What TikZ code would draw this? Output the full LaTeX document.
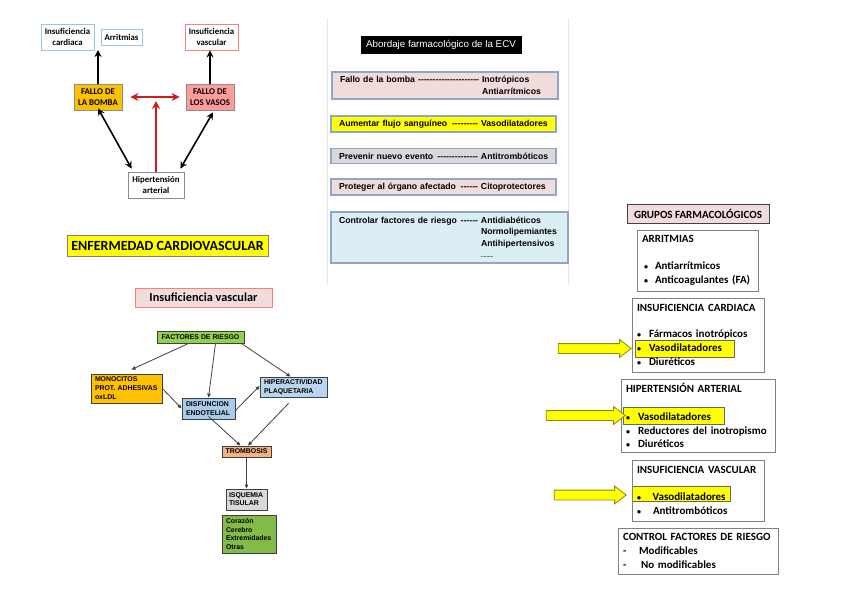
\documentclass[tikz,border=0pt]{standalone}
\usepackage{fontspec}
\setmainfont{Carlito}
\newfontfamily\arial{Liberation Sans}
\usetikzlibrary{arrows.meta,shapes.arrows}
\definecolor{icblue}{HTML}{9DC3E6}
\definecolor{ivred}{HTML}{FF7C80}
\definecolor{borang}{HTML}{FFC000}
\definecolor{pinkv}{HTML}{FF9B9B}
\definecolor{redar}{HTML}{D01C1C}
\definecolor{mbord}{HTML}{8FA6C8}
\definecolor{pinkl}{HTML}{F2DCDB}
\definecolor{grayl}{HTML}{D9D9D9}
\definecolor{bluel}{HTML}{DBEEF4}
\definecolor{greenf}{HTML}{92D050}
\definecolor{bluef}{HTML}{A9CBEB}
\definecolor{salmonf}{HTML}{F4B183}
\definecolor{yel}{HTML}{FFFF00}
\definecolor{fcbord}{HTML}{404040}
\newlength\colw \setlength\colw{142pt}
\newcommand\lr[2]{\makebox[\colw][l]{#1 \leaders\hbox{-}\hfill\hspace{2pt}}#2}
\newcommand\bul[3]{\hspace*{#1pt}\makebox[#2pt][l]{{\fontsize{8}{8}\selectfont\textbullet}}#3}
\begin{document}
\begin{tikzpicture}[x=1pt,y=-1pt,
  sz/.style 2 args={minimum width=#1pt, minimum height=#2pt},
  tl/.style={draw, rectangle, inner sep=0pt, align=center, line width=0.8pt,
    font=\bfseries\fontsize{8.8}{11}\selectfont},
  bk/.style={line width=1.6pt, black, -{Stealth[length=7pt,width=7pt]}},
  bkd/.style={line width=1.6pt, black, {Stealth[length=7pt,width=7pt]}-{Stealth[length=7pt,width=7pt]}},
  rd/.style={line width=1.8pt, redar},
  rtip/.style={-{Stealth[length=8pt,width=8pt]}},
  mb/.style={draw=mbord, line width=1.2pt, rectangle, inner xsep=8pt, inner ysep=0pt, align=left,
    font=\arial\bfseries\fontsize{8.7}{11.5}\selectfont},
  fc/.style={draw=fcbord, line width=0.9pt, rectangle, inner ysep=0pt,
    font=\arial\bfseries\fontsize{6.9}{9}\selectfont},
  fa/.style={draw=fcbord, line width=0.8pt, -{Triangle[length=4pt,width=3.5pt]}},
  rb/.style={draw=black!50, line width=0.8pt, rectangle, inner xsep=5pt, inner ysep=0pt, align=left,
    font=\bfseries\fontsize{11}{14}\selectfont},
  hl/.style={fill=yel, draw=black!60, line width=0.8pt, rectangle, inner sep=0pt},
  ya/.style={single arrow, fill=yel, draw=black!45!yel, line width=0.8pt, inner xsep=0pt, inner ysep=4.5pt,
    single arrow head extend=4pt, single arrow tip angle=75}
]
\useasboundingbox[fill=white] (0,0) rectangle (848,599);

% ---------- top-left diagram ----------
\node[tl, draw=icblue, sz={53}{26}] (ic) at (67.5,37) {Insuficiencia\\cardiaca};
\node[tl, draw=icblue, sz={41}{16}] (arr) at (121.5,37) {Arritmias};
\node[tl, draw=ivred, sz={53}{26}] (iv) at (211.5,37) {Insuficiencia\\vascular};
\node[tl, draw=black!45, fill=borang, sz={48}{26}] (bomba) at (98,97) {FALLO DE\\LA BOMBA};
\node[tl, draw=black!45, fill=pinkv, sz={48}{26}] (vasos) at (210,97) {FALLO DE\\LOS VASOS};
\node[tl, draw=black!45, sz={56}{26}] (hta) at (156,185) {Hipertensión\\arterial};
\coordinate (up1) at (98,50);
\coordinate (redtip) at (156,101);
\draw[bk] (bomba.north) -- (up1);
\draw[bk] (vasos.north) -- (vasos.north |- iv.south);
\draw[rd, {Stealth[length=8pt,width=8pt]}-{Stealth[length=8pt,width=8pt]}] ([xshift=8pt]bomba.east) -- ([xshift=-6pt]vasos.west);
\draw[rd, rtip] (hta.north) -- (redtip);
\draw[bkd] ([yshift=2pt]bomba.south) -- ([shift={(4,-3)}]hta.north west);
\draw[bkd] ([shift={(3,2)}]vasos.south) -- ([shift={(-4,-3)}]hta.north east);

\node[draw=black!50, fill=yel, line width=0.8pt, inner sep=0pt, sz={201}{21},
  font=\bfseries\fontsize{14}{16}\selectfont] (ecv) at (167.5,245.5) {ENFERMEDAD CARDIOVASCULAR};

% ---------- middle panel ----------
\draw[black!10, line width=0.8pt] (327,18) -- (327,285);
\draw[black!10, line width=0.8pt] (568,18) -- (568,285);
\node[fill=black, draw=black, text=white, inner sep=0pt, sz={160}{17},
  font=\arial\fontsize{9.8}{11}\selectfont] (abt) at (441,44.5) {Abordaje farmacológico de la ECV};
\node[mb, fill=pinkl, text width=210pt, minimum height=27pt] (m1) at (445,85.5)
  {\lr{Fallo de la bomba}{Inotrópicos}\\\hspace*{\colw}Antiarrítmicos};
\node[mb, fill=yel, text width=209pt, minimum height=16pt] (m2) at (443.5,124)
  {\lr{Aumentar flujo sanguíneo}{Vasodilatadores}};
\node[mb, fill=grayl, text width=209pt, minimum height=15pt] (m3) at (443.5,156)
  {\lr{Prevenir nuevo evento}{Antitrombóticos}};
\node[mb, fill=pinkl, text width=209pt, minimum height=16pt] (m4) at (443.5,187)
  {\lr{Proteger al órgano afectado}{Citoprotectores}};
\node[mb, fill=bluel, text width=221pt, minimum height=51pt] (m5) at (449.5,237.5)
  {\lr{Controlar factores de riesgo}{Antidiabéticos}\\\hspace*{\colw}Normolipemiantes\\\hspace*{\colw}Antihipertensivos\\\hspace*{\colw}{\fontsize{5}{6}\selectfont .........}};

% ---------- insuficiencia vascular flowchart ----------
\node[draw=ivred, fill=pinkl, line width=0.8pt, inner sep=0pt, sz={137}{19},
  font=\bfseries\fontsize{12.3}{14}\selectfont] (ivt) at (203.5,297.5) {Insuficiencia vascular};
\node[fc, fill=greenf, sz={87}{12}, inner xsep=0pt] (fr) at (200.5,337) {FACTORES DE RIESGO};
\node[fc, fill=borang, minimum height=29pt, inner xsep=4pt, text width=63pt, align=left] (mono) at (126.5,388.5)
  {MONOCITOS\\PROT. ADHESIVAS\\oxLDL};
\node[fc, fill=bluef, minimum height=21pt, inner xsep=4pt, text width=45pt, align=left] (disf) at (208.5,408.5)
  {DISFUNCION\\ENDOTELIAL};
\node[fc, fill=bluef!80!white, minimum height=20pt, inner xsep=4pt, text width=59pt, align=left] (hip) at (293.5,387)
  {HIPERACTIVIDAD\\PLAQUETARIA};
\node[fc, fill=salmonf, sz={49}{11}, inner xsep=0pt] (tromb) at (246.5,451.5) {TROMBOSIS};
\node[fc, fill=grayl, minimum height=21pt, inner xsep=3pt, text width=35pt, align=left,
  font=\arial\bfseries\fontsize{6.9}{7.8}\selectfont] (isq) at (246.5,499.5) {ISQUEMIA\\TISULAR};
\node[fc, fill=greenf!90!black, minimum height=38pt, inner xsep=4pt, text width=46pt, align=left,
  font=\arial\bfseries\fontsize{6.9}{8.7}\selectfont] (cor) at (249,534)
  {Corazón\\Cerebro\\Extremidades\\Otras};
\draw[fa] ([xshift=-12pt]fr.south) -- ([shift={(5,-4)}]mono.north);
\draw[fa] ([xshift=15pt]fr.south) -- (disf.north);
\draw[fa] ([xshift=-3pt]fr.south east) -- ([xshift=-3pt]hip.north);
\draw[fa] (mono.east) -- (disf.west);
\draw[fa] ([yshift=-2pt]disf.east) -- ([yshift=1pt]hip.west);
\draw[fa] ([yshift=3pt]disf.south) -- ([xshift=-6pt]tromb.north);
\draw[fa] ([shift={(-5,6)}]hip.south) -- ([xshift=1.5pt]tromb.north);
\draw[fa] (tromb.south) -- (isq.north);

% ---------- right column ----------
\node[draw=black!75, fill=pinkl, line width=1pt, inner sep=0pt, sz={142}{19},
  font=\bfseries\fontsize{11}{13}\selectfont] (grp) at (698,213.5) {GRUPOS FARMACOLÓGICOS};
\node[rb, text width=111pt, minimum height=61pt] (arrit) at (697.5,260.5)
  {ARRITMIAS\\[13pt]\bul{2}{11}{Antiarrítmicos}\\\bul{2}{11}{Anticoagulantes (FA)}};

\node[hl, sz={99}{17}] (hl1) at (684.5,348.5) {};
\node[rb, text width=122pt, minimum height=74pt] (icb) at (698,335)
  {INSUFICIENCIA CARDIACA\\[12pt]\bul{0}{12}{Fármacos inotrópicos}\\\bul{0}{12}{Vasodilatadores}\\\bul{0}{12}{Diuréticos}};
\node[ya, minimum height=73pt] (ya1) at (591.5,348.5) {};

\node[hl, sz={101}{17}] (hl2) at (673.5,415.5) {};
\node[rb, text width=144pt, minimum height=73pt] (htab) at (698,415.5)
  {HIPERTENSIÓN ARTERIAL\\[14pt]\bul{0}{12}{Vasodilatadores}\\[-0.5pt]\bul{0}{12}{Reductores del inotropismo}\\[-0.5pt]\bul{0}{12}{Diuréticos}};
\node[ya, minimum height=79pt] (ya2) at (582.5,415.5) {};

\node[hl, sz={98}{15}] (hl3) at (681,493.5) {};
\node[rb, text width=122pt, minimum height=61pt] (ivb) at (698,490.5)
  {INSUFICIENCIA VASCULAR\\[13pt]\bul{0}{12}{ Vasodilatadores}\\\bul{0}{16}{Antitrombóticos}};
\node[ya, minimum height=72pt] (ya3) at (587,495) {};

\node[rb, text width=150pt, minimum height=46pt] (cfr) at (698,551)
  {CONTROL FACTORES DE RIESGO\\\makebox[16pt][l]{-}Modificables\\\makebox[18pt][l]{-}No modificables};
\end{tikzpicture}
\end{document}
